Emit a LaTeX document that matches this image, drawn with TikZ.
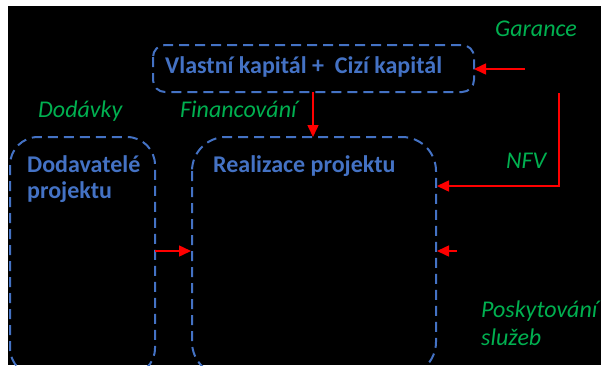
\documentclass[tikz,border=0pt]{standalone}
\usepackage{fontspec}
\setmainfont{Carlito}
\usetikzlibrary{arrows.meta}
\definecolor{boxblue}{HTML}{4472C4}
\definecolor{labgreen}{HTML}{00B050}
\definecolor{arrred}{HTML}{FF0000}
\tikzset{
  dbox/.style={draw=boxblue, line width=2pt, dash pattern=on 10pt off 6pt},
  boxtext/.style={text=boxblue, font=\fontsize{24}{28}\selectfont\bfseries, inner sep=0pt},
  greenlab/.style={text=labgreen, font=\fontsize{24}{28}\selectfont\itshape, inner sep=0pt},
  flow/.style={draw=arrred, line width=1.5pt, -{Triangle[length=12pt,width=11pt]}},
}
\begin{document}
\begin{tikzpicture}[x=1pt,y=-1pt]
\useasboundingbox (0,0) rectangle (603,365);
\fill[white] (0,0) rectangle (603,365);
\fill[black] (8,6) rectangle (601,365);
\begin{scope}
\clip (8,6) rectangle (601,365);
% financing sources box
\draw[dbox, rounded corners=12pt] (153,45) rectangle (474,92);
% supplier box
\draw[dbox, rounded corners=28pt] (10,137) rectangle (155,376);
% project box
\draw[dbox, rounded corners=34pt] (192,137) rectangle (436,376);
\end{scope}
% box anchors
\coordinate (fin) at (313,92);
\coordinate (finin) at (313,137);
\coordinate (cap) at (474,69);
\coordinate (gar) at (525,69);
\coordinate (nfvs) at (559,93);
\coordinate (nfvc) at (559,186);
\coordinate (nfvin) at (437,186);
\coordinate (svcs) at (457,251);
\coordinate (svcin) at (437,251);
\coordinate (sup) at (155,251);
\coordinate (supin) at (191,251);
% texts
\node[boxtext, anchor=base west] (captxt) at (165,73) {Vlastní kapitál +\ \ Cizí kapitál};
\node[boxtext, anchor=base west] (suptxt1) at (27,172) {Dodavatelé};
\node[boxtext, anchor=base west] (suptxt2) at (27,198) {projektu};
\node[boxtext, anchor=base west] (projtxt) at (213,172) {Realizace projektu};
\node[greenlab, anchor=base west] (garance) at (495,36) {Garance};
\node[greenlab, anchor=base west] (dodavky) at (38,117) {Dodávky};
\node[greenlab, anchor=base west] (financ) at (180,117) {Financování};
\node[greenlab, anchor=base west] (nfv) at (506,168) {NFV};
\node[greenlab, anchor=base west] (posk1) at (481,317) {Poskytování};
\node[greenlab, anchor=base west] (posk2) at (481,345) {služeb};
% flows
\draw[flow] (gar) -- (cap);
\draw[flow] (fin) -- (finin);
\draw[flow] (nfvs) -- (nfvc) -- (nfvin);
\draw[flow] (svcs) -- (svcin);
\draw[flow] (sup) -- (supin);
\end{tikzpicture}
\end{document}
